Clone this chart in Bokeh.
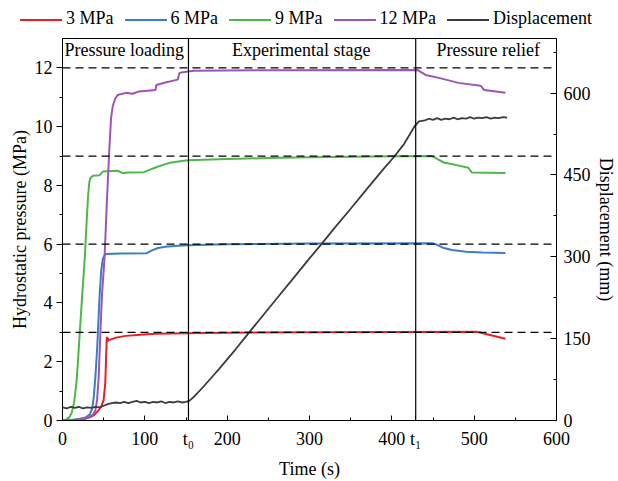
import math
from bokeh.plotting import figure
from bokeh.layouts import column
from bokeh.models import Range1d, LinearAxis, FixedTicker, Span, Label, Div
from bokeh.embed import file_html
from bokeh.resources import INLINE

# ---- data ----
t0 = 153
t1 = 429
target_levels = [3, 6, 9, 12]

t_3 = [0, 10, 20, 25, 30, 35, 39, 43, 47, 50, 52, 53, 53.8, 54.5, 55.2, 56, 59, 65, 77, 95, 113, 150, 200, 300, 400, 503, 538]
p_3 = [0.0, 0.01, 0.03, 0.05, 0.08, 0.13, 0.2, 0.32, 0.47, 0.7, 1.3, 2.2, 2.85, 2.68, 2.8, 2.74, 2.76, 2.82, 2.88, 2.92, 2.95, 2.97, 2.99, 3.0, 3.01, 3.02, 2.78]

t_6 = [0, 10, 20, 28, 33, 36, 38, 40, 42, 43, 45, 47, 49, 51, 53, 70, 102, 108, 116, 125, 136, 152, 200, 300, 449, 455, 462, 473, 490, 510, 538]
p_6 = [0.0, 0.02, 0.05, 0.1, 0.2, 0.4, 0.8, 1.5, 2.4, 3.0, 4.2, 5.1, 5.5, 5.63, 5.67, 5.68, 5.69, 5.78, 5.87, 5.91, 5.94, 5.96, 6.0, 6.02, 6.03, 5.98, 5.88, 5.8, 5.74, 5.72, 5.7]

t_9 = [0, 4, 8, 11, 14, 17, 19, 21, 24, 27, 29, 31, 32.5, 34, 37, 45, 49, 67, 73, 80, 99, 105, 113, 122, 132, 152, 200, 250, 300, 400, 449, 455, 463, 477, 493, 497, 538]
p_9 = [0.0, 0.03, 0.1, 0.25, 0.6, 1.3, 2.1, 3.0, 4.3, 5.5, 6.6, 7.6, 8.1, 8.25, 8.33, 8.35, 8.47, 8.5, 8.42, 8.44, 8.45, 8.52, 8.61, 8.7, 8.78, 8.86, 8.9, 8.93, 8.96, 8.99, 9.0, 8.9, 8.78, 8.7, 8.6, 8.44, 8.42]

t_12 = [0, 15, 25, 32, 37, 40, 42, 44, 46, 48, 51, 54, 57, 59, 61, 64, 67, 77, 85, 93, 113, 114, 125, 140, 142, 150, 160, 250, 431, 441, 457, 481, 508, 512, 538]
p_12 = [0.0, 0.02, 0.05, 0.1, 0.2, 0.35, 0.7, 1.5, 3.0, 4.3, 5.5, 7.5, 9.3, 10.3, 10.7, 10.95, 11.08, 11.15, 11.12, 11.2, 11.25, 11.42, 11.5, 11.6, 11.83, 11.87, 11.9, 11.92, 11.93, 11.76, 11.66, 11.49, 11.39, 11.25, 11.15]

t_d = [0, 5, 10, 15, 20, 25, 30, 35, 40, 45, 50, 55, 60, 65, 70, 75, 80, 85, 90, 95, 100, 105, 110, 115, 120, 125, 130, 135, 140, 145, 150, 154,
       160, 170, 180, 190, 200, 210, 226, 240, 260, 280, 300, 315, 330, 350, 370, 390, 402, 415, 428, 433,
       440, 445, 450, 455, 460, 465, 470, 475, 480, 485, 490, 495, 500, 505, 510, 515, 520, 525, 530, 535, 540]
d_d = [24, 22, 25, 23, 25, 22, 24, 23, 25, 24, 27, 30, 32, 33, 32, 34, 32, 34, 36, 33, 34, 32, 34, 33, 35, 32, 34, 33, 35, 33, 34, 36,
       44, 60, 77, 94, 112, 130, 160, 186, 223, 260, 297, 324, 352, 388, 425, 461, 482, 507, 540, 548,
       550, 553, 551, 554, 551, 553, 552, 555, 552, 554, 553, 556, 553, 555, 554, 556, 553, 555, 554, 556, 555]

x_ticks = [0, 100, t0, 200, 300, 400, t1, 500, 600]
x_minor = [50, 150, 250, 350, 450, 550]
y_ticks = [0, 2, 4, 6, 8, 10, 12]
y_minor = [1, 3, 5, 7, 9, 11]
d_ticks = [0, 150, 300, 450, 600]
d_minor = [75, 225, 375, 525, 675]

stage_names = ["Pressure loading", "Experimental stage", "Pressure relief"]
stage_x = [75, 290, 517]

series_names = ["3 MPa", "6 MPa", "9 MPa", "12 MPa", "Displacement"]
colors = ["#ee1d23", "#3a7ec6", "#4cb848", "#a152b7"]
disp_color = "#3c3c3c"

FONT = "Liberation Serif"
FS = "18px"

p = figure(width=618, height=444, x_range=Range1d(0, 600), y_range=Range1d(0, 13.0),
           output_backend="svg", toolbar_location=None,
           min_border_left=62, min_border_right=56, min_border_top=1, min_border_bottom=57)
p.extra_y_ranges = {"disp": Range1d(0, 700)}
p.xgrid.visible = False
p.ygrid.visible = False
p.outline_line_color = "black"
p.outline_line_alpha = 1.0
p.outline_line_width = 1
p.background_fill_color = "white"
p.border_fill_color = "white"

# axes
xa = p.xaxis[0]
xa.ticker = FixedTicker(ticks=x_ticks, minor_ticks=x_minor)
xa.major_label_overrides = {t0: "t\u2080", t1: "t\u2081"}
xa.axis_label = "Time (s)"
ya = p.yaxis[0]
ya.ticker = FixedTicker(ticks=y_ticks, minor_ticks=y_minor)
ya.axis_label = "Hydrostatic pressure (MPa)"
ra = LinearAxis(y_range_name="disp", axis_label="Displacement (mm)")
ra.ticker = FixedTicker(ticks=d_ticks, minor_ticks=d_minor)
p.add_layout(ra, "right")

for ax, tin, tout in [(xa, 5, 0), (ya, 0, 6), (ra, 6, 0)]:
    ax.major_tick_in = tin
    ax.major_tick_out = tout
    ax.minor_tick_in = 3 if tin else 0
    ax.minor_tick_out = 3 if tout else 0
    ax.major_label_text_font = FONT
    ax.major_label_text_font_size = FS
    ax.major_label_text_color = "black"
    ax.axis_label_text_font = FONT
    ax.axis_label_text_font_size = FS
    ax.axis_label_text_font_style = "normal"
    ax.axis_label_text_color = "black"
    ax.axis_line_color = "black"
    ax.major_tick_line_color = "black"
    ax.minor_tick_line_color = "black"
xa.major_label_standoff = 8
xa.axis_label_standoff = 7
ya.major_label_standoff = 4
ya.axis_label_standoff = 2
ra.major_label_standoff = 7
ra.axis_label_standoff = 2
if hasattr(ra, "axis_label_orientation"):
    ra.axis_label_orientation = "vertical"

# reference lines
for lv in target_levels:
    p.add_layout(Span(location=lv, dimension="width", line_color="black", line_dash="8 5", line_width=1.2))
for tv in (t0, t1):
    p.add_layout(Span(location=tv, dimension="height", line_color="black", line_width=1.2))

# curves
for tt, pp, c in zip([t_3, t_6, t_9, t_12], [p_3, p_6, p_9, p_12], colors):
    p.line(tt, pp, line_color=c, line_width=2)
p.line(t_d, d_d, y_range_name="disp", line_color=disp_color, line_width=1.8)

# stage labels
for name, sx in zip(stage_names, stage_x):
    p.add_layout(Label(x=sx, y=12.6, text=name, text_align="center", text_baseline="middle",
                       text_font=FONT, text_font_size=FS, text_color="black"))

# legend strip above the chart (HTML, so it may extend beyond the plot frame)
parts = []
for i, (n, c) in enumerate(zip(series_names, colors + [disp_color])):
    gap = "" if i == 0 else '<span style="display:inline-block;width:11px"></span>'
    parts.append(gap + '<span style="display:inline-block;width:42px;height:0;border-top:2px solid %s;'
                 'vertical-align:middle;margin-right:4px"></span>%s' % (c, n))
legend_html = ('<div style="font-family:\'Liberation Serif\';font-size:18px;color:black;white-space:nowrap;'
               'padding-left:20px;padding-top:8px;line-height:21px">' + "".join(parts) + '</div>')
lg = Div(text=legend_html, width=618, height=37, margin=0)

open("out.html", "w").write(file_html(column(lg, p, spacing=0), INLINE))
